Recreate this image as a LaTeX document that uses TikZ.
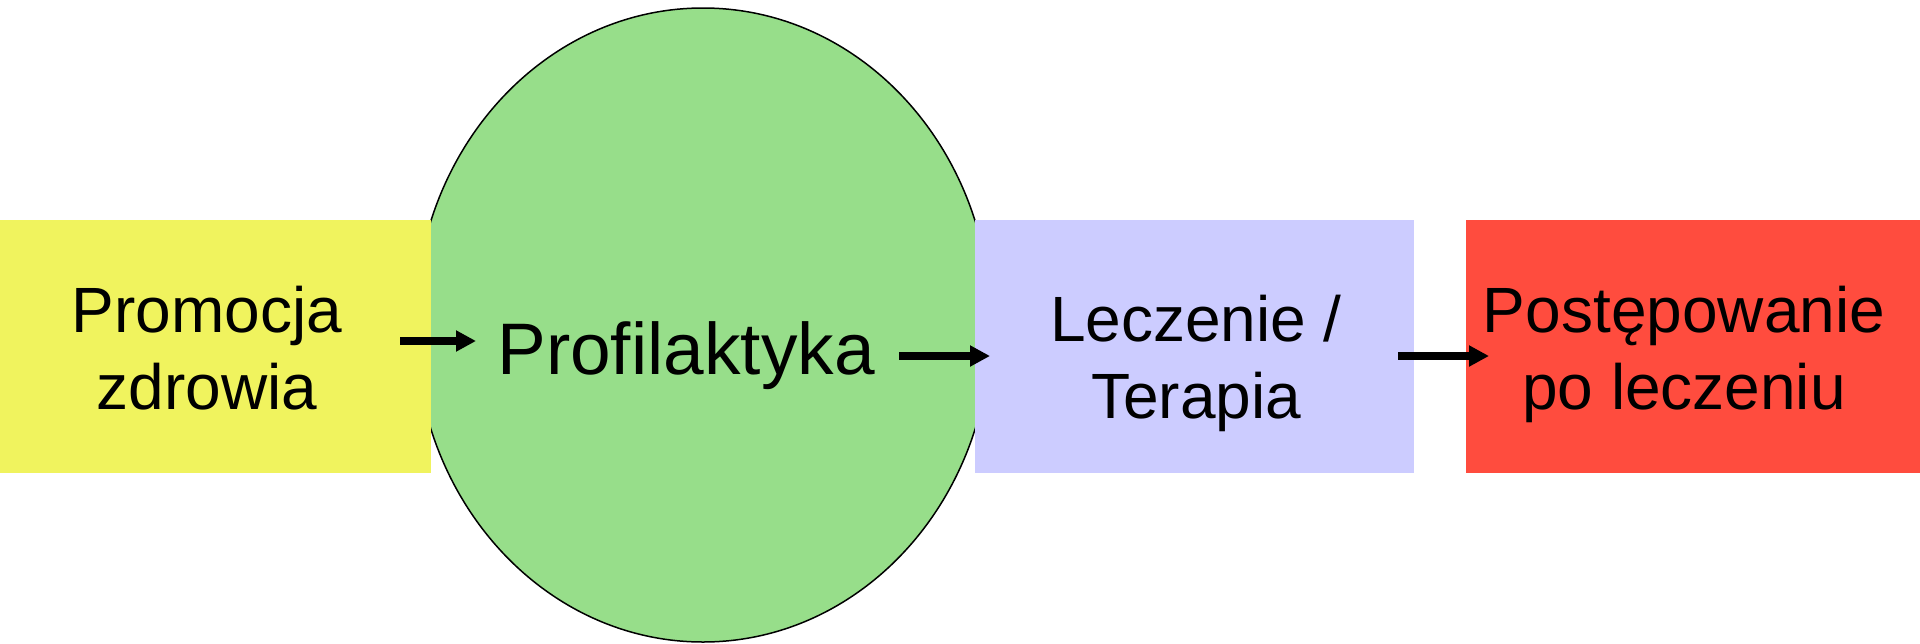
\documentclass[tikz,border=0pt]{standalone}
\usepackage{fontspec}
\setmainfont{Liberation Sans}
\usetikzlibrary{arrows.meta,shapes.geometric}
\definecolor{yellowfill}{RGB}{240,243,94}
\definecolor{greenfill}{RGB}{151,222,138}
\definecolor{lavenderfill}{RGB}{204,204,255}
\definecolor{redfill}{RGB}{255,76,62}

\begin{document}
\begin{tikzpicture}
[x=1pt,y=-1pt,
  boxdecorate/.style={shape=rectangle,inner sep=0pt,minimum height=253pt},
  textdecorate/.style={align=center,anchor=base,inner sep=0pt,
    font=\fontsize{64}{77}\selectfont},
  arrowdecorate/.style={-{Triangle[length=20pt,width=20pt]},line width=7.5pt}]
\useasboundingbox (0,0) rectangle (1920,643);
%% ellipse behind the boxes
\node (profilaktyka) at (703,325) [shape=ellipse,inner sep=0pt,
  minimum width=576pt,minimum height=634pt,fill=greenfill,draw=black,
  line width=1.5pt] {};
%% boxes
\foreach \nodename/\x/\w/\colour in {
  promocja/215.5/431/yellowfill, leczenie/1194.5/439/lavenderfill,
  postepowanie/1693/454/redfill}
{
  \node (\nodename) at (\x,346.5) [boxdecorate,minimum width=\w pt,
    fill=\colour] {};
}
%% texts (base = baseline of the last line)
\node (promocjatext) at (207,409) [textdecorate] {Promocja\\zdrowia};
\node (profilaktykatext) at (686,374) [textdecorate,
  font=\fontsize{73}{88}\selectfont] {Profilaktyka};
\node (leczenietext) at (1196,418) [textdecorate] {Leczenie /\\Terapia};
\node (postepowanietext) at (1684,409) [textdecorate]
  {Postępowanie\\po leczeniu};
%% arrow ends
\foreach \nodename/\x/\y in {
  s1/400/341, e1/476/341, s2/899/356, e2/990/356, s3/1398/356, e3/1489/356}
{
  \coordinate (\nodename) at (\x,\y);
}
%% arrows
\foreach \startnode/\endnode in {s1/e1, s2/e2, s3/e3}
{
  \draw[arrowdecorate] (\startnode) -- (\endnode);
}
\end{tikzpicture}
\end{document}
